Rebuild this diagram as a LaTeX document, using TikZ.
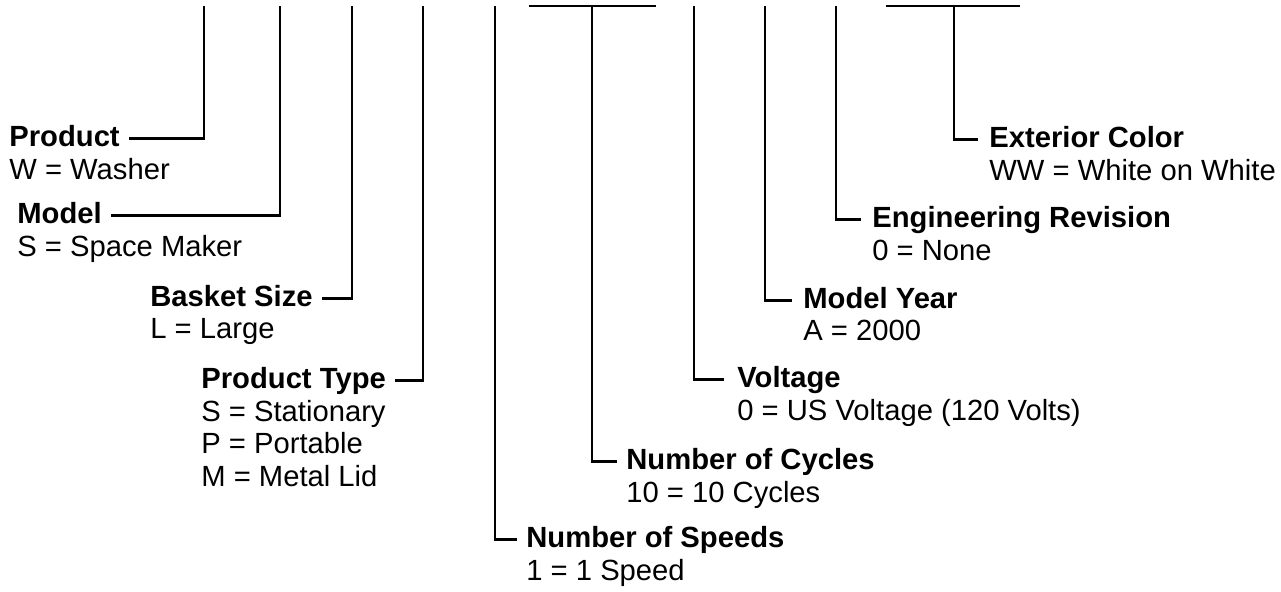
\documentclass[tikz,border=0pt]{standalone}
\usepackage{fontspec}
\setmainfont{Liberation Sans}
\usepackage{tikz}
\usetikzlibrary{positioning, calc}

\begin{document}
\begin{tikzpicture}[
    x=0.5pt, y=-0.5pt,
    val/.style={anchor=base west, inner sep=0pt, text height=0.85em, text depth=0pt, font=\fontsize{14.6pt}{17pt}\selectfont},
    title/.style={val, font=\fontsize{14.6pt}{17pt}\selectfont\bfseries},
    lead/.style={line width=1.2pt, line cap=rect}
]
    \useasboundingbox (0,0) rectangle (1281,592);
    \coordinate (tprod) at (204,7);
    \coordinate (tmod) at (280,7);
    \coordinate (tbask) at (352,7);
    \coordinate (ttype) at (423,7);
    \coordinate (tspd) at (495,7);
    \coordinate (tcyc) at (592,6);
    \coordinate (cycl) at (530,6);
    \coordinate (cycr) at (655,6);
    \coordinate (tvolt) at (694,7);
    \coordinate (tyear) at (765,7);
    \coordinate (teng) at (836,7);
    \coordinate (text) at (954,6);
    \coordinate (extl) at (887,6);
    \coordinate (extr) at (1019,6);

    \node[title] (prod) at (9,147) {Product};
    \node[val] (prodv) at (9,180) {W = Washer};
    \node[title] (mod) at (17,224) {Model};
    \node[val] (modv) at (17,257) {S = Space Maker};
    \node[title] (bask) at (150,307) {Basket Size};
    \node[val] (baskv) at (150,339) {L = Large};
    \node[title] (type) at (201,389) {Product Type};
    \node[val] (typea) at (201,422) {S = Stationary};
    \node[val] (typeb) at (201,454) {P = Portable};
    \node[val] (typec) at (201,487) {M = Metal Lid};
    \node[title] (spd) at (526,548) {Number of Speeds};
    \node[val] (spdv) at (526,581) {1 = 1 Speed};
    \node[title] (cyc) at (626,470) {Number of Cycles};
    \node[val] (cycv) at (626,503) {10 = 10 Cycles};
    \node[title] (volt) at (737,388) {Voltage};
    \node[val] (voltv) at (737,421) {0 = US Voltage (120 Volts)};
    \node[title] (year) at (803,309) {Model Year};
    \node[val] (yearv) at (803,341) {A = 2000};
    \node[title] (eng) at (872,228) {Engineering Revision};
    \node[val] (engv) at (872,261) {0 = None};
    \node[title] (ext) at (989,148) {Exterior Color};
    \node[val] (extv) at (989,181) {WW = White on White};

    \draw[lead] ([xshift=5pt]prod.east) -| (tprod);
    \draw[lead] ([xshift=5pt]mod.east) -| (tmod);
    \draw[lead] ([xshift=5pt]bask.east) -| (tbask);
    \draw[lead] ([xshift=5pt]type.east) -| (ttype);
    \draw[lead] (tspd) |- ([xshift=-5pt]spd.west);
    \draw[lead] (cycl) -- (cycr);
    \draw[lead] (tcyc) |- ([xshift=-5pt]cyc.west);
    \draw[lead] (tvolt) |- ([xshift=-7pt]volt.west);
    \draw[lead] (tyear) |- ([xshift=-6pt]year.west);
    \draw[lead] (teng) |- ([xshift=-6pt]eng.west);
    \draw[lead] (extl) -- (extr);
    \draw[lead] (text) |- ([xshift=-6pt]ext.west);
\end{tikzpicture}
\end{document}
